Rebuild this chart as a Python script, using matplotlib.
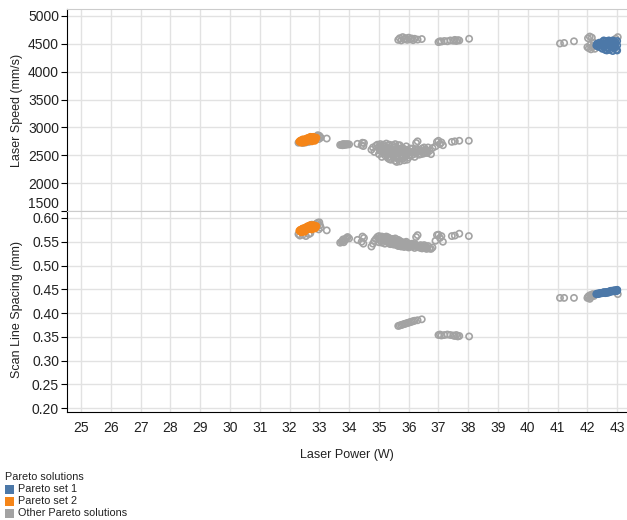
import matplotlib
matplotlib.use('Agg')
import matplotlib.pyplot as plt
from matplotlib.patches import Rectangle

plt.rcParams['font.family'] = ['Liberation Sans', 'DejaVu Sans']

# Pareto set 1 (high power, high speed)
set1_power = [42.30, 42.32, 42.35, 42.38, 42.40, 42.42, 42.45, 42.48, 42.50, 42.52,
              42.55, 42.58, 42.60, 42.62, 42.65, 42.68, 42.70, 42.72, 42.75, 42.78,
              42.80, 42.82, 42.85, 42.88, 42.90, 42.92, 42.95, 42.97, 43.00, 42.55,
              42.65, 42.75, 42.85, 42.95, 43.00, 42.60, 42.70, 42.80, 42.90, 43.00]
set1_speed = [4470, 4500, 4450, 4490, 4520, 4440, 4480, 4510, 4410, 4540,
              4460, 4500, 4390, 4550, 4430, 4520, 4480, 4560, 4390, 4540,
              4450, 4510, 4370, 4550, 4420, 4490, 4530, 4390, 4470, 4560,
              4380, 4500, 4560, 4440, 4550, 4470, 4410, 4550, 4520, 4380]
set1_spacing = [0.440, 0.441, 0.440, 0.441, 0.442, 0.441, 0.442, 0.442, 0.442, 0.443,
                0.443, 0.443, 0.443, 0.444, 0.444, 0.444, 0.444, 0.445, 0.445, 0.445,
                0.446, 0.446, 0.446, 0.446, 0.447, 0.447, 0.447, 0.448, 0.448, 0.444,
                0.443, 0.446, 0.447, 0.446, 0.449, 0.442, 0.443, 0.447, 0.448, 0.447]

# Pareto set 2 (low power, low speed)
set2_power = [32.33, 32.36, 32.38, 32.40, 32.42, 32.44, 32.46, 32.48, 32.50, 32.52,
              32.54, 32.56, 32.58, 32.60, 32.62, 32.64, 32.66, 32.68, 32.70, 32.72,
              32.74, 32.76, 32.78, 32.80, 32.82, 32.84, 32.86, 32.88, 32.90, 32.45,
              32.55, 32.65, 32.75, 32.85, 32.60, 32.70, 32.80, 32.40, 32.50]
set2_speed = [2745, 2760, 2740, 2770, 2750, 2765, 2745, 2775, 2755, 2770,
              2790, 2760, 2800, 2775, 2810, 2780, 2795, 2815, 2770, 2800,
              2825, 2785, 2810, 2790, 2820, 2780, 2805, 2790, 2815, 2785,
              2740, 2765, 2750, 2760, 2795, 2830, 2830, 2725, 2730]
set2_spacing = [0.573, 0.575, 0.572, 0.576, 0.574, 0.577, 0.573, 0.578, 0.575, 0.577,
                0.580, 0.576, 0.581, 0.578, 0.583, 0.579, 0.581, 0.584, 0.577, 0.582,
                0.584, 0.580, 0.583, 0.581, 0.584, 0.579, 0.582, 0.580, 0.583, 0.578,
                0.574, 0.577, 0.576, 0.578, 0.581, 0.585, 0.585, 0.570, 0.571]

# remaining Pareto solutions
other_power = [
    # around set 2
    32.30, 32.35, 32.45, 32.55, 32.65, 32.70, 32.85, 32.90, 32.95, 33.00,
    33.02, 33.05, 32.98, 33.25, 32.75,
    # 33.7 - 34.5
    33.70, 33.75, 33.78, 33.82, 33.85, 33.88, 33.92, 33.95, 34.00, 33.80,
    34.28, 34.45, 34.48, 34.50, 34.42,
    # main low-speed cluster
    34.75, 34.80, 34.85, 34.90, 34.95, 35.00, 35.00, 35.05, 35.05, 35.10,
    35.10, 35.15, 35.15, 35.20, 35.20, 35.25, 35.25, 35.30, 35.30, 35.35,
    35.35, 35.40, 35.40, 35.45, 35.45, 35.50, 35.50, 35.55, 35.55, 35.60,
    35.60, 35.65, 35.65, 35.70, 35.70, 35.75, 35.75, 35.80, 35.80, 35.85,
    35.85, 35.90, 35.90, 35.95, 36.00, 36.00, 36.05, 36.10, 36.15, 36.20,
    36.25, 36.25, 36.30, 36.30, 36.35, 36.40, 36.45, 36.50, 36.55, 36.60,
    36.65, 36.70, 36.75, 36.80,
    35.02, 35.08, 35.12, 35.18, 35.22, 35.28, 35.32, 35.38, 35.42, 35.48,
    35.52, 35.58, 35.62, 35.68, 35.72, 35.78, 35.82, 35.88, 35.92, 35.98,
    36.02, 36.08, 36.12, 36.18, 36.22, 36.35, 36.42, 36.48, 36.52, 36.58,
    36.62, 35.55, 35.35, 35.65, 35.95,
    # 36.9 - 38
    36.90, 36.95, 37.00, 37.05, 37.10, 37.15, 37.45, 37.55, 37.70, 38.02,
    # high speed, narrow spacing
    35.65, 35.70, 35.75, 35.80, 35.85, 35.90, 35.95, 36.00, 36.05, 36.10,
    36.15, 36.20, 36.30, 36.44,
    37.00, 37.05, 37.10, 37.20, 37.30, 37.40, 37.50, 37.55, 37.60, 37.65,
    37.70, 38.03,
    # around set 1
    41.08, 41.22, 41.55,
    42.00, 42.02, 42.05, 42.08, 42.10, 42.12, 42.15, 42.18, 42.22, 42.25,
    43.02, 42.95]
other_speed = [
    2725, 2735, 2720, 2730, 2740, 2760, 2800, 2835, 2860, 2850,
    2830, 2815, 2790, 2800, 2820,
    2685, 2690, 2680, 2695, 2685, 2700, 2690, 2700, 2695, 2700,
    2705, 2725, 2665, 2720, 2680,
    2600, 2640, 2560, 2670, 2690, 2520, 2650, 2700, 2580, 2620,
    2470, 2690, 2540, 2660, 2500, 2600, 2710, 2450, 2640, 2560,
    2690, 2420, 2620, 2520, 2680, 2590, 2460, 2400, 2650, 2380,
    2540, 2610, 2430, 2390, 2680, 2500, 2570, 2440, 2630, 2410,
    2550, 2480, 2600, 2520, 2460, 2580, 2620, 2500, 2560, 2470,
    2540, 2720, 2750, 2600, 2510, 2570, 2620, 2530, 2600, 2560,
    2640, 2580, 2520, 2630,
    2600, 2660, 2560, 2620, 2580, 2520, 2680, 2480, 2560, 2640,
    2510, 2600, 2460, 2550, 2620, 2470, 2580, 2520, 2660, 2560,
    2500, 2560, 2620, 2520, 2600, 2580, 2520, 2580, 2640, 2600,
    2540, 2700, 2430, 2680, 2420,
    2660, 2740, 2760, 2700, 2730, 2680, 2740, 2750, 2760, 2760,
    4570, 4600, 4560, 4620, 4580, 4600, 4570, 4610, 4580, 4595,
    4565, 4590, 4575, 4585,
    4530, 4545, 4540, 4550, 4545, 4560, 4555, 4570, 4550, 4565,
    4560, 4590,
    4505, 4515, 4545,
    4440, 4600, 4420, 4630, 4480, 4400, 4610, 4450, 4520, 4410,
    4620, 4590]
other_spacing = [
    0.566, 0.563, 0.565, 0.562, 0.566, 0.568, 0.585, 0.588, 0.590, 0.591,
    0.585, 0.580, 0.576, 0.574, 0.586,
    0.548, 0.550, 0.552, 0.549, 0.553, 0.556, 0.558, 0.560, 0.557, 0.555,
    0.554, 0.561, 0.546, 0.558, 0.550,
    0.540, 0.546, 0.552, 0.556, 0.560, 0.549, 0.562, 0.558, 0.553, 0.561,
    0.548, 0.556, 0.552, 0.559, 0.546, 0.554, 0.561, 0.549, 0.557, 0.551,
    0.555, 0.545, 0.553, 0.548, 0.556, 0.551, 0.544, 0.546, 0.553, 0.543,
    0.549, 0.551, 0.541, 0.545, 0.552, 0.547, 0.540, 0.543, 0.549, 0.539,
    0.546, 0.541, 0.548, 0.544, 0.538, 0.546, 0.542, 0.540, 0.544, 0.537,
    0.542, 0.560, 0.564, 0.540, 0.538, 0.543, 0.536, 0.540, 0.538, 0.535,
    0.541, 0.536, 0.535, 0.538,
    0.557, 0.560, 0.555, 0.558, 0.553, 0.551, 0.559, 0.547, 0.552, 0.555,
    0.548, 0.552, 0.545, 0.548, 0.550, 0.542, 0.547, 0.543, 0.550, 0.545,
    0.541, 0.543, 0.546, 0.541, 0.545, 0.541, 0.537, 0.539, 0.543, 0.540,
    0.537, 0.557, 0.546, 0.554, 0.540,
    0.552, 0.564, 0.565, 0.558, 0.562, 0.550, 0.562, 0.563, 0.567, 0.562,
    0.373, 0.374, 0.375, 0.376, 0.377, 0.378, 0.379, 0.380, 0.381, 0.382,
    0.383, 0.384, 0.385, 0.387,
    0.354, 0.355, 0.353, 0.354, 0.355, 0.354, 0.353, 0.352, 0.354, 0.351,
    0.352, 0.351,
    0.432, 0.432, 0.432,
    0.432, 0.434, 0.436, 0.430, 0.438, 0.434, 0.437, 0.440, 0.436, 0.439,
    0.440, 0.446]

x_ticks = list(range(25, 44))
speed_ticks = [1500, 2000, 2500, 3000, 3500, 4000, 4500, 5000]
spacing_ticks = [0.20, 0.25, 0.30, 0.35, 0.40, 0.45, 0.50, 0.55, 0.60]

blue = '#4c78a8'
orange = '#f58518'
gray = '#a3a3a3'

W, H = 627, 520
fig = plt.figure(figsize=(W / 100, H / 100), dpi=100)

left = 66.7 / W
ax1 = fig.add_axes([left, 1 - 211 / H, 1 - left, (211 - 9.5) / H])
ax2 = fig.add_axes([left, 1 - 412.3 / H, 1 - left, (412.3 - 211) / H])

mk = dict(marker='o', s=20, linewidths=1.2, facecolors='none', zorder=3)

for ax, yvals in [(ax1, (other_speed, set1_speed, set2_speed)),
                  (ax2, (other_spacing, set1_spacing, set2_spacing))]:
    ax.scatter(other_power, yvals[0], edgecolors=gray, **mk)
    ax.scatter(set1_power, yvals[1], edgecolors=blue, **mk)
    ax.scatter(set2_power, yvals[2], edgecolors=orange, **mk)
    ax.set_xlim(24.52, 43.33)
    ax.set_xticks(x_ticks)
    ax.grid(True, color='#e2e2e2', linewidth=1, zorder=0)
    ax.set_axisbelow(True)
    ax.spines['right'].set_visible(False)
    ax.spines['top'].set_color('#cccccc')
    ax.spines['left'].set_color('black')
    ax.tick_params(axis='y', length=4, width=0.8, pad=1.5, labelsize=10,
                   labelcolor='#222222')

ax1.set_ylim(1500, 5115)
ax1.set_yticks(speed_ticks)
ax1.spines['bottom'].set_visible(False)
ax1.tick_params(axis='x', length=0, labelbottom=False)
# keep the lowest label clear of the panel below
ax1.get_yticklabels()[0].set_va('bottom')

ax2.set_ylim(0.1915, 0.6147)
ax2.set_yticks(spacing_ticks)
ax2.set_yticklabels(['%.2f' % v for v in spacing_ticks])
ax2.spines['bottom'].set_color('black')
ax2.tick_params(axis='x', length=0, pad=6, labelsize=10, labelcolor='#222222')
ax2.set_xlabel('Laser Power (W)', fontsize=9, labelpad=10, color='#222222')

fig.text(17.5 / W, 1 - 110 / H, 'Laser Speed (mm/s)', rotation=90,
         ha='center', va='center', fontsize=9, color='#222222')
fig.text(17.5 / W, 1 - 310 / H, 'Scan Line Spacing (mm)', rotation=90,
         ha='center', va='center', fontsize=9, color='#222222')

# legend
fig.text(5 / W, 1 - 477 / H, 'Pareto solutions', ha='left', va='center',
         fontsize=7.8, color='#222222')
legend_items = [('Pareto set 1', blue), ('Pareto set 2', orange),
                ('Other Pareto solutions', gray)]
for i, (name, c) in enumerate(legend_items):
    yc = 489 + i * 12
    fig.add_artist(Rectangle((5 / W, 1 - (yc + 4.5) / H), 9 / W, 9 / H,
                             transform=fig.transFigure, facecolor=c,
                             edgecolor='none'))
    fig.text(17.5 / W, 1 - yc / H, name, ha='left', va='center',
             fontsize=7.8, color='#222222')

fig.savefig('out.png', dpi=100)
